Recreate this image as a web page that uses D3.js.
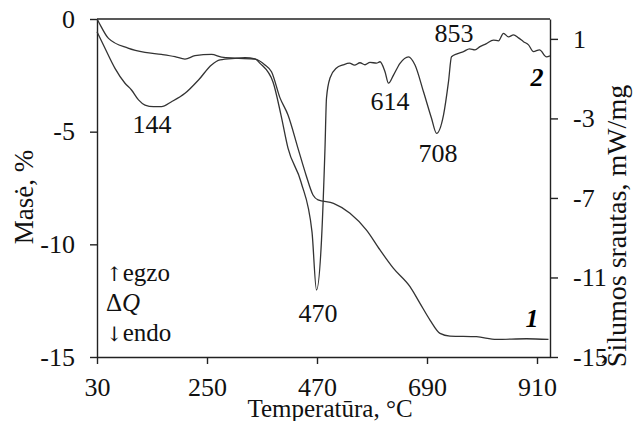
<!DOCTYPE html>
<html>
<head>
<meta charset="utf-8">
<script src="https://cdn.jsdelivr.net/npm/d3@7"></script>
<style>
  body { margin: 0; background: #fff; }
  svg { display: block; }
  svg text { font-family: "Liberation Serif", "Times New Roman", serif; }
</style>
</head>
<body>
<svg id="chart" width="633" height="421"></svg>
<script>
// TG curve (1): mass loss, %
const tgTemp = [30, 33, 53, 92, 126, 159, 186, 206, 226, 259, 279, 306, 346, 366, 379, 396, 412, 432, 448, 462, 472, 503, 536, 569, 596, 623, 656, 676, 696, 716, 736, 789, 829, 889, 933];
const tgMass = [0, -0.12, -0.86, -1.29, -1.48, -1.57, -1.67, -1.78, -1.63, -1.57, -1.69, -1.74, -1.78, -2.04, -2.34, -3.50, -4.26, -5.74, -6.92, -7.81, -8.03, -8.18, -8.62, -9.37, -10.25, -11.07, -11.88, -12.62, -13.36, -13.95, -14.07, -14.10, -14.22, -14.19, -14.22];

// DSC curve (2): heat flow, mW/mg
const dscTemp = [30, 46, 66, 86, 99, 113, 126, 143, 159, 179, 206, 233, 259, 276, 306, 326, 346, 356, 382, 398, 412, 438, 460, 469, 479, 486, 489, 496, 509, 522, 535, 545, 556, 566, 576, 589, 596, 606, 613, 623, 636, 653, 666, 683, 699, 709, 723, 733, 739, 750, 763, 775, 786, 796, 808, 823, 833, 843, 853, 863, 873, 883, 893, 903, 915, 929, 936];
const dscFlow = [1.36, 0.53, -0.48, -1.23, -1.57, -2.07, -2.33, -2.41, -2.41, -2.16, -1.74, -1.07, -0.31, -0.06, 0.02, 0.05, -0.01, -0.23, -1.17, -2.83, -4.49, -6.20, -8.71, -11.63, -9.12, -4.49, -1.97, -0.97, -0.46, -0.31, -0.22, -0.32, -0.20, -0.30, -0.18, -0.22, -0.15, -0.65, -1.23, -0.82, -0.23, 0.10, -0.31, -1.66, -2.99, -3.75, -2.83, -1.15, 0.10, 0.25, 0.36, 0.50, 0.45, 0.61, 0.75, 0.94, 0.90, 1.28, 1.10, 1.20, 1.05, 0.86, 0.70, 0.36, 0.45, 0.10, 0.15];

const xTicks = [30, 250, 470, 690, 910];
const massTicks = [0, -5, -10, -15];
const flowTicks = [1, -3, -7, -11, -15];
const peakLabels = ["144", "470", "614", "708", "853"];

const margin = { top: 19, right: 83, bottom: 64, left: 97 };
const width = 633, height = 421;
const serif = "Liberation Serif";

const svg = d3.select("#chart");

const x = d3.scaleLinear().domain([30, 936]).range([margin.left, width - margin.right]);
const yMass = d3.scaleLinear().domain([-15, 0]).range([height - margin.bottom, margin.top]);
const yFlow = d3.scaleLinear().domain([-15, 2]).range([height - margin.bottom, margin.top]);

const fontSize = 26;

// axes
const xAxis = svg.append("g")
  .attr("transform", "translate(0," + (height - margin.bottom) + ")")
  .call(d3.axisBottom(x).tickValues(xTicks).tickSize(7).tickPadding(14).tickSizeOuter(0).tickFormat(d => String(d)));

const leftAxis = svg.append("g")
  .attr("transform", "translate(" + margin.left + ",0)")
  .call(d3.axisLeft(yMass).tickValues(massTicks).tickSize(7).tickPadding(15).tickSizeOuter(0).tickFormat(d => String(d)));

const rightAxis = svg.append("g")
  .attr("transform", "translate(" + (width - margin.right) + ",0)")
  .call(d3.axisRight(yFlow).tickValues(flowTicks).tickSize(8).tickPadding(15).tickSizeOuter(0).tickFormat(d => String(d)));

[xAxis, leftAxis, rightAxis].forEach(g => {
  g.attr("font-family", serif).attr("font-size", fontSize);
  g.selectAll("path, line").attr("stroke", "#222").attr("stroke-width", 1.4);
  g.selectAll("text").attr("fill", "#111");
});

// top border
svg.append("line")
  .attr("x1", margin.left).attr("x2", width - margin.right)
  .attr("y1", margin.top).attr("y2", margin.top)
  .attr("stroke", "#222").attr("stroke-width", 1.4);

// curves
const tgLine = d3.line()
  .x((d, i) => x(tgTemp[i]))
  .y(d => yMass(d))
  .curve(d3.curveMonotoneX);

const dscLine = d3.line()
  .x((d, i) => x(dscTemp[i]))
  .y(d => yFlow(d))
  .curve(d3.curveMonotoneX);

svg.append("path")
  .attr("d", tgLine(tgMass))
  .attr("fill", "none").attr("stroke", "#333").attr("stroke-width", 1.3);

svg.append("path")
  .attr("d", dscLine(dscFlow))
  .attr("fill", "none").attr("stroke", "#333").attr("stroke-width", 1.3);

// peak labels
const peakPos = [[152, 133], [318, 322], [390, 110], [438, 162], [454, 42]];
svg.selectAll(".peak")
  .data(peakLabels)
  .enter()
  .append("text")
  .attr("class", "peak")
  .attr("x", (d, i) => peakPos[i][0])
  .attr("y", (d, i) => peakPos[i][1])
  .attr("text-anchor", "middle")
  .attr("font-family", serif)
  .attr("font-size", fontSize)
  .attr("fill", "#111")
  .text(d => d);

// curve numbers
svg.append("text").attr("x", 532).attr("y", 327)
  .attr("text-anchor", "middle").attr("font-family", serif).attr("font-size", 26)
  .attr("font-weight", "bold").attr("font-style", "italic").text("1");
svg.append("text").attr("x", 537).attr("y", 86)
  .attr("text-anchor", "middle").attr("font-family", serif).attr("font-size", 26)
  .attr("font-weight", "bold").attr("font-style", "italic").text("2");

// egzo / endo legend
const leg = svg.append("g").attr("font-family", serif).attr("font-size", 25).attr("fill", "#111");
const up = leg.append("text").attr("x", 106).attr("y", 281);
up.append("tspan").attr("font-family", "DejaVu Serif").attr("font-size", 20).text("↑");
up.append("tspan").text("egzo");
const dq = leg.append("text").attr("x", 106).attr("y", 311);
dq.append("tspan").text("Δ");
dq.append("tspan").attr("font-style", "italic").text("Q");
const down = leg.append("text").attr("x", 106).attr("y", 341);
down.append("tspan").attr("font-family", "DejaVu Serif").attr("font-size", 20).text("↓");
down.append("tspan").text("endo");

// axis titles
svg.append("text")
  .attr("transform", "translate(33,197) rotate(-90)")
  .attr("text-anchor", "middle")
  .attr("font-family", serif).attr("font-size", 27).attr("fill", "#111")
  .text("Masė, %");

svg.append("text")
  .attr("x", 330).attr("y", 417)
  .attr("text-anchor", "middle")
  .attr("font-family", serif).attr("font-size", 25).attr("fill", "#111")
  .text("Temperatūra, °C");

svg.append("text")
  .attr("transform", "translate(626,226) rotate(-90)")
  .attr("text-anchor", "middle")
  .attr("font-family", serif).attr("font-size", 28).attr("fill", "#111")
  .text("Šilumos srautas, mW/mg");
</script>
</body>
</html>
